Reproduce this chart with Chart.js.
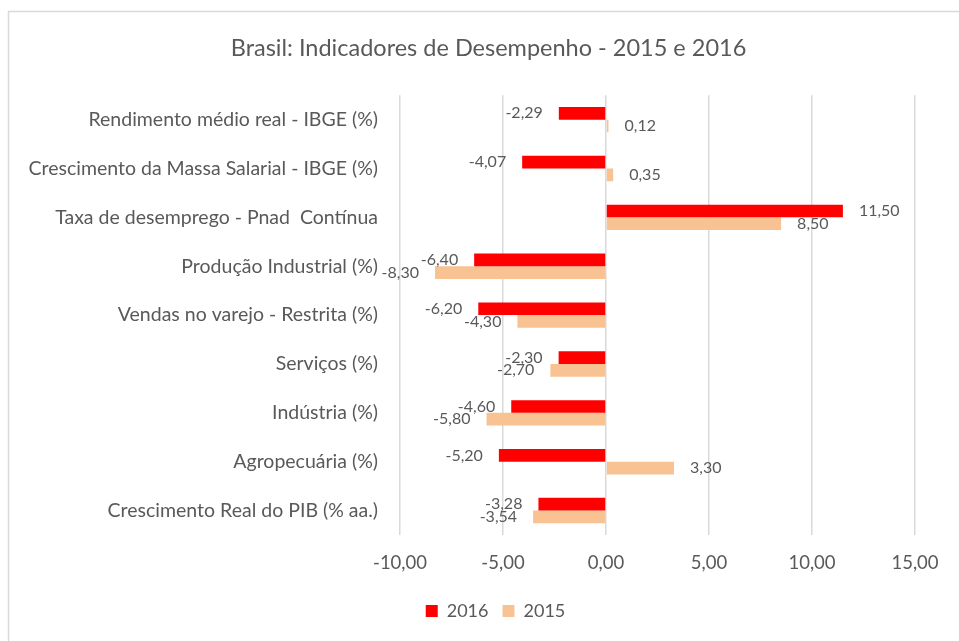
<!DOCTYPE html>
<html>
<head>
<meta charset="utf-8">
<script src="https://cdn.jsdelivr.net/npm/chart.js@4.4.1/dist/chart.umd.min.js"></script>
<style>
  html, body { margin: 0; padding: 0; background: #ffffff; }
  #wrap { width: 959px; height: 641px; position: relative; }
</style>
</head>
<body>
<div id="wrap"><canvas id="chart" width="959" height="641"></canvas></div>
<script>
const categories = [
  'Rendimento médio real - IBGE (%)',
  'Crescimento da Massa Salarial - IBGE (%)',
  'Taxa de desemprego - Pnad  Contínua',
  'Produção Industrial (%)',
  'Vendas no varejo - Restrita (%)',
  'Serviços (%)',
  'Indústria (%)',
  'Agropecuária (%)',
  'Crescimento Real do PIB (% aa.)'
];
const values2016 = [-2.29, -4.07, 11.50, -6.40, -6.20, -2.30, -4.60, -5.20, -3.28];
const values2015 = [0.12, 0.35, 8.50, -8.30, -4.30, -2.70, -5.80, 3.30, -3.54];
const tickValues = [-10, -5, 0, 5, 10, 15];

const FONT = "Lato, 'Open Sans', sans-serif";
const TEXT = '#595959';

function fmt(v) {
  return v.toFixed(2).replace('.', ',');
}

// frame lines like the original screenshot
const framePlugin = {
  id: 'frame',
  beforeDraw(chart) {
    const ctx = chart.ctx;
    ctx.save();
    ctx.strokeStyle = '#d9d9d9';
    ctx.lineWidth = 1.5;
    ctx.beginPath();
    ctx.moveTo(8.5, chart.height);
    ctx.lineTo(8.5, 11.5);
    ctx.lineTo(chart.width, 11.5);
    ctx.stroke();
    ctx.restore();
  }
};

// title and legend are centred a bit to the right in the original
const shiftBoxes = {
  id: 'shiftBoxes',
  afterLayout(chart) {
    if (chart.titleBlock) {
      chart.titleBlock.left += 31;
      chart.titleBlock.right += 31;
    }
    if (chart.legend) {
      chart.legend.left += 38;
      chart.legend.right += 38;
    }
  }
};

// excel style "outside end" data labels
const valueLabels = {
  id: 'valueLabels',
  afterDatasetsDraw(chart) {
    const ctx = chart.ctx;
    ctx.save();
    ctx.font = '16px ' + FONT;
    ctx.fillStyle = TEXT;
    ctx.textBaseline = 'middle';
    chart.data.datasets.forEach((ds, i) => {
      const meta = chart.getDatasetMeta(i);
      meta.data.forEach((bar, j) => {
        const v = ds.data[j];
        if (v >= 0) {
          ctx.textAlign = 'left';
          ctx.fillText(fmt(v), bar.x + 16, bar.y);
        } else {
          ctx.textAlign = 'right';
          ctx.fillText(fmt(v), bar.x - 16, bar.y);
        }
      });
    });
    ctx.restore();
  }
};

new Chart(document.getElementById('chart'), {
  type: 'bar',
  data: {
    labels: categories,
    datasets: [
      {
        label: '2016',
        data: values2016,
        backgroundColor: '#ff0000',
        categoryPercentage: 0.52,
        barPercentage: 1.0,
      },
      {
        label: '2015',
        data: values2015,
        backgroundColor: '#f8c293',
        categoryPercentage: 0.52,
        barPercentage: 1.0,
      },
    ],
  },
  options: {
    indexAxis: 'y',
    responsive: false,
    animation: false,
    layout: {
      padding: { left: 0, right: 44, top: 0, bottom: 11 },
    },
    scales: {
      x: {
        min: -10,
        max: 15,
        afterBuildTicks: (scale) => {
          scale.ticks = tickValues.map((v) => ({ value: v }));
        },
        afterFit: (scale) => {
          scale.height = 53;
        },
        ticks: {
          callback: (v) => fmt(v),
          color: TEXT,
          padding: 17,
          font: { family: FONT, size: 18.5 },
        },
        grid: {
          color: '#d9d9d9',
          lineWidth: 1.5,
          drawTicks: false,
        },
        border: { display: false },
      },
      y: {
        afterFit: (scale) => {
          scale.width = 400;
        },
        ticks: {
          color: TEXT,
          padding: 14,
          font: { family: FONT, size: 19.5 },
        },
        grid: { display: false },
        border: { display: false },
      },
    },
    plugins: {
      title: {
        display: true,
        text: 'Brasil: Indicadores de Desempenho - 2015 e 2016',
        color: TEXT,
        font: { family: FONT, size: 23.5, weight: 'normal' },
        padding: { top: 34, bottom: 33 },
      },
      legend: {
        position: 'bottom',
        labels: {
          color: TEXT,
          boxWidth: 12,
          boxHeight: 12,
          padding: 14,
          font: { family: FONT, size: 18 },
        },
      },
      tooltip: { enabled: false },
    },
  },
  plugins: [framePlugin, shiftBoxes, valueLabels],
});
</script>
</body>
</html>
